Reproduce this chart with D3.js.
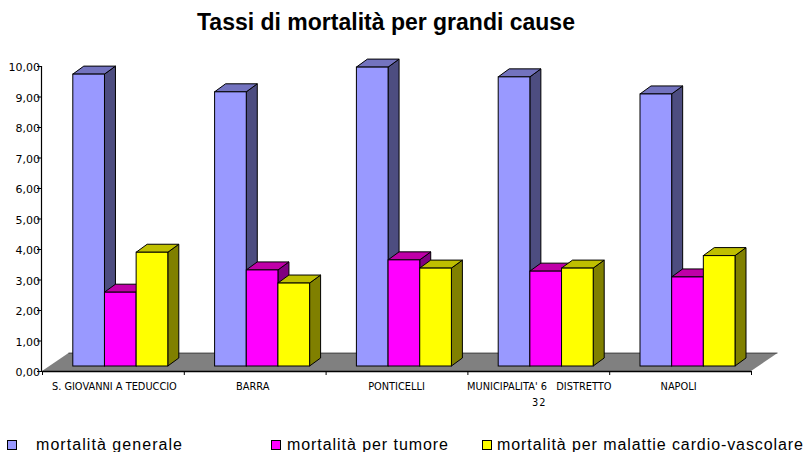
<!DOCTYPE html>
<html>
<head>
<meta charset="utf-8">
<script src="https://cdnjs.cloudflare.com/ajax/libs/d3/7.8.5/d3.min.js"></script>
<style>
	html, body { margin: 0; padding: 0; background: #fff; }
	svg { display: block; }
	text { fill: #000; }
</style>
</head>
<body>
<div id="chart"></div>
<script>
const categories = ['S. GIOVANNI A TEDUCCIO', 'BARRA', 'PONTICELLI', "MUNICIPALITA' 6   DISTRETTO", 'NAPOLI'];
const seriesNames = ['mortalità generale', 'mortalità per tumore', 'mortalità per malattie cardio-vascolare'];
const generale = [9.57, 8.99, 9.80, 9.48, 8.92];
const tumore = [2.42, 3.15, 3.48, 3.11, 2.92];
const cardio = [3.73, 2.72, 3.21, 3.21, 3.62];
const yTicks = [0, 1, 2, 3, 4, 5, 6, 7, 8, 9, 10];

const width = 805, height = 452;
const series = [generale, tumore, cardio];

const svg = d3.select('#chart').append('svg')
	.attr('width', width)
	.attr('height', height);

//title
svg.append('text')
	.attr('x', 386)
	.attr('y', 29.5)
	.attr('text-anchor', 'middle')
	.style('font', 'bold 23px "Liberation Sans"')
	.text('Tassi di mortalità per grandi cause');

//D3 scales
const xScale = d3.scaleBand()
	.domain(categories)
	.range([42, 751]);

const xInner = d3.scaleBand()
	.domain(d3.range(series.length))
	.range([30.8, 125.8]);

const yScale = d3.scaleLinear()
	.domain([0, 10])
	.range([371, 66]);

//3d offsets
const floorDepth = {x: 26.5, y: -18};
const barDepth = {x: 11, y: -8};
const barLift = -5;

const colors = [
	{front: '#9999ff', top: '#7373bf', side: '#4d4d80'},
	{front: '#ff00ff', top: '#bf00a8', side: '#800080'},
	{front: '#ffff00', top: '#bfbf00', side: '#808000'}
];

//floor
const [x0, x1] = xScale.range();
const y0 = yScale(0);
svg.append('path')
	.attr('d', `M${x0},${y0}L${x0 + floorDepth.x},${y0 + floorDepth.y}L${x1 + floorDepth.x},${y0 + floorDepth.y}L${x1},${y0}Z`)
	.attr('fill', '#808080');
svg.append('path')
	.attr('d', `M${x0 + floorDepth.x},${y0 + floorDepth.y}L${x1 + floorDepth.x},${y0 + floorDepth.y}`)
	.attr('stroke', '#000')
	.attr('stroke-opacity', 0.6);

//bars
const groups = svg.selectAll('.group')
	.data(categories)
	.enter().append('g')
	.attr('class', 'group')
	.attr('transform', d => `translate(${xScale(d)},0)`);

groups.each(function(cat, c) {
	const g = d3.select(this);
	series.forEach((values, s) => {
		const xa = xInner(s);
		const xb = xa + xInner.bandwidth();
		const top = yScale(values[c]) + barLift;
		const base = y0 + barLift;
		const bar = g.append('g')
			.attr('stroke', '#000')
			.attr('stroke-width', 1)
			.attr('stroke-linejoin', 'miter');
		bar.append('path')
			.attr('fill', colors[s].side)
			.attr('d', `M${xb},${top}L${xb + barDepth.x},${top + barDepth.y}L${xb + barDepth.x},${base + barDepth.y}L${xb},${base}Z`);
		bar.append('path')
			.attr('fill', colors[s].top)
			.attr('d', `M${xa},${top}L${xa + barDepth.x},${top + barDepth.y}L${xb + barDepth.x},${top + barDepth.y}L${xb},${top}Z`);
		bar.append('rect')
			.attr('fill', colors[s].front)
			.attr('x', xa)
			.attr('y', top)
			.attr('width', xb - xa)
			.attr('height', base - top);
	});
});

//axis elements
const yAxis = svg.append('g')
	.attr('class', 'yAxis')
	.attr('transform', `translate(${x0 - 1},0)`)
	.call(d3.axisLeft(yScale)
		.tickValues(yTicks)
		.tickSize(4)
		.tickFormat(d => d.toFixed(2).replace('.', ',')));
yAxis.select('.domain').attr('stroke-width', 1.2);
yAxis.selectAll('text')
	.attr('x', -1)
	.attr('dy', '0.42em')
	.style('font', '11px "DejaVu Sans"');

const xAxis = svg.append('g')
	.attr('class', 'xAxis')
	.attr('transform', `translate(0,${y0})`)
	.call(d3.axisBottom(xScale)
		.tickSizeOuter(0)
		.tickSize(0)
		.tickFormat(''));
xAxis.select('.domain').attr('stroke-width', 1.5);

svg.append('g')
	.selectAll('line')
	.data(xScale.domain().map(d => xScale(d)).concat(x1))
	.enter().append('line')
	.attr('x1', d => d + 0.5).attr('x2', d => d + 0.5)
	.attr('y1', y0).attr('y2', y0 + 4)
	.attr('stroke', '#000');

//category labels sit a little off centre in the original
const labelNudge = [1.5, -2, 0, 1, -1.5];
svg.append('g')
	.selectAll('text')
	.data(categories)
	.enter().append('text')
	.attr('x', (d, i) => xScale(d) + xScale.bandwidth() / 2 + labelNudge[i])
	.attr('y', 390)
	.attr('text-anchor', 'middle')
	.attr('xml:space', 'preserve')
	.style('font', '9.8px "DejaVu Sans"')
	.style('white-space', 'pre')
	.text(d => d);

svg.append('text')
	.attr('x', xScale(categories[3]) + xScale.bandwidth() / 2 + 1)
	.attr('y', 406)
	.attr('text-anchor', 'middle')
	.attr('letter-spacing', 1)
	.style('font', '9.8px "DejaVu Sans"')
	.text('32');

//legend
const legendSwatch = [7, 271, 482];
const legendText = [36, 287, 497];
const legendLen = [146, 161, 306];
const legend = svg.selectAll('.legend')
	.data(seriesNames)
	.enter().append('g')
	.attr('class', 'legend');
legend.append('rect')
	.attr('x', (d, i) => legendSwatch[i] + 0.5)
	.attr('y', 440.5)
	.attr('width', 9)
	.attr('height', 9)
	.attr('fill', (d, i) => colors[i].front)
	.attr('stroke', '#000');
legend.append('text')
	.attr('x', (d, i) => legendText[i])
	.attr('y', 450)
	.attr('textLength', (d, i) => legendLen[i])
	.attr('lengthAdjust', 'spacing')
	.style('font', '16px "Liberation Sans"')
	.text(d => d);
</script>
</body>
</html>
